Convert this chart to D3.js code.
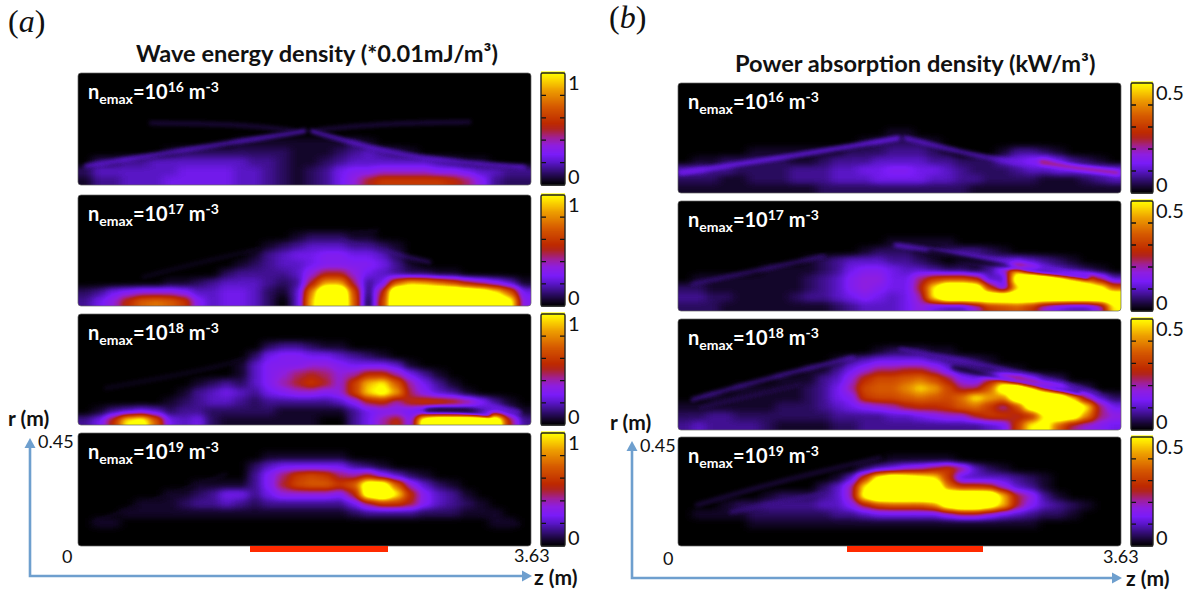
<!DOCTYPE html>
<html lang="en">
<head>
  <meta charset="UTF-8" />
  <title>Wave energy and power absorption density</title>
  <script src="https://cdn.jsdelivr.net/npm/d3@7"></script>
  <style>
    body { margin: 0; background: #fff; }
    svg { display: block; }
    text { font-family: Lato, "Open Sans", sans-serif; fill: #111; }
    .cond { font-weight: 700; fill: #fff; font-size: 20px; }
    .title { font-weight: 700; font-size: 23.6px; }
    .axis-name { font-weight: 700; font-size: 21px; }
    .num { font-size: 18px; }
    .bar-num { font-size: 20px; }
    .letter { font-family: "Liberation Serif", serif; font-size: 32px; }
  </style>
</head>
<body>
  <div id="chart"></div>

  <script>
    // Levels: level 20 is the top of the colorbar, anything above it is saturated yellow.
    // Rows run from r = 0.45 down to r = 0, columns from z = 0 to z = 3.63, trailing zeros left out.
    const waveN16 = [
      [], [], [], [], [], [], [],
      [0,0,0,0,0,0,0,0,0,0,0,1,1,1,1,1,1,1,1,2,1],
      [0,0,0,0,0,0,1,2,2,2,2,2,2,2,2,1,1,1,2,3,4,3,2,1],
      [0,2,2,3,3,4,4,4,4,4,4,4,3,3,2,1,1,2,3,4,4,4,4,4,4,3,2,1,1],
      [2,4,4,4,4,4,4,5,5,5,5,4,4,3,2,1,2,3,5,6,6,7,7,7,7,6,6,5,4,4,3,3],
      [1,3,3,4,4,4,5,5,5,5,5,4,4,3,2,1,2,3,5,7,10,12,12,12,12,12,11,9,6,3,2,2]
    ];
    const waveN17 = [
      [], [], [], [],
      [0,0,0,0,0,0,0,0,0,0,0,0,0,0,0,1,2,2,2,1,1],
      [0,0,0,0,0,0,0,0,0,0,0,0,0,1,2,3,4,4,4,3,3,2,1],
      [0,0,0,0,0,0,0,0,0,0,0,0,1,3,4,5,5,6,6,5,5,4,2],
      [0,0,0,0,0,0,0,0,0,0,0,1,2,3,4,4,5,6,6,6,6,5,3,1],
      [0,0,0,0,0,0,0,0,0,0,2,3,3,3,3,4,7,10,10,7,5,4,3,2,2,1,1],
      [0,0,0,0,0,0,1,1,2,3,4,4,4,3,2,3,10,17,17,9,3,5,14,18,17,15,13,10,8,6,4,1],
      [2,3,5,6,7,7,7,6,4,4,5,5,4,2,1,4,16,28,28,13,2,10,28,28,28,28,28,26,24,20,14,5],
      [3,5,7,11,14,15,14,12,6,4,5,5,4,2,0,4,18,28,28,14,1,12,28,28,28,28,28,28,28,28,22,6]
    ];
    const waveN18 = [
      [], [], [],
      [0,0,0,0,0,0,0,0,0,0,0,0,0,2,3,3,2,1,1],
      [0,0,0,0,0,0,0,0,0,0,0,0,2,5,6,6,5,5,4,3,2,1],
      [0,0,0,0,0,0,0,0,0,0,0,1,4,6,6,6,7,7,6,5,5,5,4,1],
      [0,0,0,0,0,0,0,0,0,0,0,1,4,6,7,9,10,9,7,8,11,11,8,5,3,1],
      [0,0,0,0,0,0,0,0,1,2,3,2,4,6,8,10,12,10,7,12,18,20,14,8,5,3,1],
      [0,0,0,0,0,0,0,1,3,4,5,4,3,5,6,7,7,6,7,12,19,22,17,9,6,4,3,1],
      [0,0,0,0,0,0,1,2,3,4,4,3,2,3,3,3,3,3,4,6,10,11,8,11,12,12,11,9,6,3,1],
      [0,1,3,4,5,4,2,3,3,2,2,2,2,2,1,1,1,1,1,3,5,6,6,5,3,1,1,1,3,5,3,1],
      [3,5,11,20,22,14,5,4,5,2,1,1,1,1,1,1,1,0,0,3,5,8,11,6,24,28,28,28,28,26,10,3]
    ];
    const waveN19 = [
      [], [],
      [0,0,0,0,0,0,0,0,0,0,0,0,0,1,1,1,1,1,1],
      [0,0,0,0,0,0,0,0,0,0,0,0,2,4,5,5,5,5,5,3,2,1],
      [0,0,0,0,0,0,0,0,0,0,0,0,3,6,9,12,13,12,9,8,10,6,4,2,1],
      [0,0,0,0,0,0,0,0,1,1,1,1,3,6,10,13,14,14,12,14,24,24,14,7,4,2,1],
      [0,0,0,0,0,0,1,1,2,3,5,5,3,5,7,7,7,7,6,10,24,28,20,11,6,4,3,1],
      [0,0,0,0,1,1,1,2,3,3,4,3,2,3,3,3,3,3,3,5,9,12,12,10,6,4,3,2,1],
      [0,0,0,1,1,1,1,1,1,1,1,1,1,1,1,1,1,1,1,2,3,3,3,3,2,2,2,1,1,1],
      [0,1,1,0,0,0,0,0,0,0,0,0,0,0,0,0,0,0,0,0,0,0,0,0,0,0,0,0,0,1,1],
      [], []
    ];
    const powerN16 = [
      [], [], [], [], [],
      [0,0,0,0,0,0,0,0,0,0,0,0,0,0,0,1,1],
      [0,0,0,0,0,0,0,0,0,0,0,0,0,1,2,2,2,2,1],
      [0,0,0,0,0,1,1,1,1,1,1,1,2,2,2,3,3,3,2,1,0,0,0,1,3,3,2,1],
      [0,1,1,2,2,2,2,2,1,1,2,3,3,3,4,4,4,4,3,3,2,2,2,4,5,6,7,5,3,2,1],
      [4,4,3,3,2,2,2,2,3,3,3,4,4,5,5,6,6,5,5,4,3,2,2,2,3,4,4,5,5,5,5,5],
      [2,2,2,1,1,2,2,2,3,3,3,4,4,4,5,5,5,5,4,4,3,3,2,2,2,2,1,1,1,2,3,4],
      [1,1,1,1,1,1,1,1,1,1,2,2,2,2,2,2,2,2,2,2,2,1,1,1,1,1,1,1,1,1,1,1]
    ];
    const powerN17 = [
      [], [], [], [],
      [0,0,0,0,0,0,0,0,0,0,0,0,0,0,0,1,1,1,1,1],
      [0,0,0,0,0,0,0,0,0,0,0,0,0,1,2,2,2,1,1,2,3,3,2,1],
      [0,0,0,0,0,0,0,0,0,1,2,3,4,4,4,3,3,2,1,0,1,2,3,4,5,4,3,2,1],
      [0,0,0,0,0,0,1,1,1,1,2,3,5,6,6,5,4,4,3,2,2,1,3,7,17,10,5,4,3,2,1],
      [0,1,1,1,1,1,1,1,1,2,3,4,6,7,7,5,5,9,12,13,13,11,4,4,24,28,27,23,18,14,9,4],
      [2,2,1,1,1,1,1,1,1,2,3,4,6,7,6,5,5,10,20,28,28,26,12,5,18,28,28,28,28,26,22,14],
      [3,3,2,2,1,1,1,1,2,3,3,4,5,6,5,4,5,8,20,28,28,28,28,28,28,28,28,28,28,28,28,28],
      [2,2,2,1,1,1,1,1,1,1,1,2,3,4,4,4,5,7,5,4,4,7,12,13,14,12,7,5,4,4,7,20]
    ];
    const powerN18 = [
      [], [], [],
      [0,0,0,0,0,0,0,0,0,0,0,0,0,0,1,2,2,2,1,1],
      [0,0,0,0,0,0,0,0,0,0,0,1,3,4,5,5,5,5,4,3,3,2,1],
      [0,0,0,0,0,0,0,0,0,1,1,3,5,7,9,9,10,10,8,5,3,3,2,2,1],
      [0,0,0,0,0,0,0,1,1,1,3,4,7,11,13,13,14,15,13,10,6,5,9,13,11,7,3,2],
      [0,0,0,0,1,1,1,1,1,2,3,5,8,13,14,14,16,19,17,13,9,9,14,24,28,22,14,9,4,2],
      [0,0,1,1,1,1,1,1,1,2,3,5,6,12,13,13,14,15,14,13,15,20,17,16,26,28,28,26,18,8,4,2],
      [1,1,1,1,1,1,1,2,2,2,3,4,5,6,7,8,10,11,11,12,14,15,12,8,13,24,28,28,28,20,9,5],
      [2,2,3,3,2,2,2,2,2,2,2,3,3,3,3,4,4,5,6,7,7,10,12,12,10,11,20,26,24,16,9,7],
      [3,4,3,3,3,3,2,1,1,1,1,2,2,3,3,3,3,3,3,3,3,3,4,5,12,20,22,14,9,7,6,5]
    ];
    const powerN19 = [
      [], [],
      [0,0,0,0,0,0,0,0,0,0,0,0,0,0,0,1,1,1,1,1],
      [0,0,0,0,0,0,0,0,0,0,0,0,0,2,4,5,7,8,10,12,9,4,2,1],
      [0,0,0,0,0,0,0,0,0,0,0,1,4,12,22,26,24,22,20,12,4,4,4,4,3,2,1],
      [0,0,0,0,0,0,0,0,0,0,2,4,8,20,28,28,28,28,28,15,12,12,11,7,4,3,1],
      [0,0,0,0,0,0,1,2,2,2,3,4,8,22,28,28,28,28,28,28,28,28,28,18,10,7,3,1],
      [0,0,0,1,2,2,3,3,3,3,4,4,6,10,13,14,14,14,16,24,28,28,24,18,10,6,4,3,2,1],
      [0,1,1,1,1,2,2,2,2,2,2,3,3,4,5,5,5,5,5,7,9,9,7,5,4,3,2,2,1],
      [0,0,0,0,0,1,1,1,1,1,1,1,1,1,1,1,1,1,1,1,1,1,1,1,1,1],
      [], []
    ];

    // Thin rays too fine for the grid, as [z, r] points in metres. Level 0 is a dark ray.
    const waveN16Rays = [
      { level: 5, points: [[0.06,0.076],[0.74,0.132],[1.30,0.176],[1.82,0.217]] },
      { level: 2, points: [[0.58,0.249],[1.30,0.245],[1.74,0.217]] },
      { level: 5, points: [[1.87,0.217],[2.34,0.149],[2.82,0.10],[3.58,0.072]] },
      { level: 2, points: [[1.92,0.221],[2.34,0.245],[3.14,0.253]] }
    ];
    const waveN17Rays = [
      { level: 1, points: [[0.52,0.117],[1.43,0.237],[2.40,0.305]] },
      { level: 3, points: [[2.10,0.265],[2.82,0.177]] }
    ];
    const waveN18Rays = [
      { level: 0, points: [[2.79,0.06],[3.02,0.064],[3.30,0.04]] },
      { level: 5, points: [[3.06,0.10],[3.54,0.052]] },
      { level: 1, points: [[0.22,0.149],[1.12,0.233],[1.49,0.289]] }
    ];
    const waveN19Rays = [
      { level: 1, points: [[0.13,0.096],[1.19,0.285]] },
      { level: 1, points: [[2.93,0.165],[3.54,0.084]] }
    ];
    const powerN16Rays = [
      { level: 6, points: [[0.02,0.082],[0.885,0.147],[1.81,0.225]] },
      { level: 5, points: [[1.86,0.225],[2.58,0.135],[2.97,0.115]] },
      { level: 11, points: [[2.97,0.127],[3.21,0.106],[3.61,0.082]] }
    ];
    const powerN17Rays = [
      { level: 5, points: [[1.78,0.27],[2.56,0.217],[3.61,0.115]] },
      { level: 0, points: [[2.06,0.245],[2.72,0.176],[3.36,0.139]] },
      { level: 3, points: [[0.115,0.11],[0.67,0.168],[1.20,0.225]] }
    ];
    const powerN18Rays = [
      { level: 4, points: [[0.115,0.123],[0.754,0.213],[1.44,0.294]] },
      { level: 2, points: [[0.18,0.09],[1.0,0.184]] },
      { level: 4, points: [[1.82,0.327],[2.64,0.254],[3.45,0.147]] },
      { level: 0, points: [[2.25,0.254],[2.88,0.184],[3.29,0.151]] }
    ];
    const powerN19Rays = [
      { level: 2, points: [[0.15,0.168],[0.84,0.27],[1.66,0.364]] },
      { level: 3, points: [[0.43,0.139],[1.33,0.229]] }
    ];

    const densityExponents = [16, 17, 18, 19];
    const zTicks = [0.5, 1, 1.5, 2, 2.5, 3, 3.5];
    const rTicks = [0.05, 0.1];
    const colorStops = [0, 0.05, 0.1, 0.2, 0.27, 0.35, 0.42, 0.5, 0.55, 0.7, 0.85, 0.95, 1];
    const colorValues = ["#000000", "#14062a", "#2a0c60", "#5a16c8", "#7a1cf8", "#8e1ee0", "#a0209a",
      "#b02420", "#be2a00", "#d65a00", "#eea000", "#fde000", "#ffff00"];
    const zMax = 3.63, rMax = 0.45, levelTop = 20, levelMax = 28;

    const width = 1188, height = 590;
    const svg = d3.select("#chart").append("svg").attr("width", width).attr("height", height);
    const defs = svg.append("defs");

    const colorAt = d3.scaleLinear().domain(colorStops).range(colorValues).clamp(true);
    const grayAt = d3.scaleLinear().domain([0, levelMax]).range([0, 255]).clamp(true);

    // Cells are painted in gray, blurred, and the gray is then mapped through the colorbar
    const table = d3.range(0, 129).map(i => d3.rgb(colorAt((i / 128) * levelMax / levelTop)));
    const filterBox = s => s.attr("filterUnits", "userSpaceOnUse").attr("x", 0).attr("y", 0)
      .attr("width", width).attr("height", height).attr("color-interpolation-filters", "sRGB");

    const mapFilter = filterBox(defs.append("filter").attr("id", "colormap"));
    const transfer = mapFilter.append("feComponentTransfer");
    [["feFuncR", "r"], ["feFuncG", "g"], ["feFuncB", "b"]].forEach(([fn, ch]) => {
      transfer.append(fn).attr("type", "table").attr("tableValues", table.map(c => (c[ch] / 255).toFixed(3)).join(" "));
    });
    filterBox(defs.append("filter").attr("id", "blurCells")).append("feGaussianBlur").attr("stdDeviation", "5 3");
    filterBox(defs.append("filter").attr("id", "blurRay")).append("feGaussianBlur").attr("stdDeviation", "2.2");

    function drawPanel(cfg, i) {
      const z = d3.scaleLinear().domain([0, zMax]).range([cfg.left, cfg.right]);
      const r = d3.scaleLinear().domain([0, rMax]).range([cfg.bottom, cfg.top]);
      const col = d3.scaleBand().domain(d3.range(32)).range([cfg.left, cfg.right]);
      const row = d3.scaleBand().domain(d3.range(12)).range([cfg.top, cfg.bottom]);
      const clipId = `clip-${cfg.id}`;

      defs.append("clipPath").attr("id", clipId).append("rect")
        .attr("x", cfg.left).attr("y", cfg.top)
        .attr("width", cfg.right - cfg.left).attr("height", cfg.bottom - cfg.top).attr("rx", 3);

      const g = svg.append("g").attr("clip-path", `url(#${clipId})`);
      const mapped = g.append("g").attr("filter", "url(#colormap)");
      mapped.append("rect").attr("x", cfg.left - 30).attr("y", cfg.top - 30)
        .attr("width", cfg.right - cfg.left + 60).attr("height", cfg.bottom - cfg.top + 60).attr("fill", "#000");

      const cells = cfg.grid.flatMap((vals, k) => vals.map((v, c) => ({ k, c, v })));
      mapped.append("g").attr("filter", "url(#blurCells)")
        .selectAll("rect").data(cells).join("rect")
        // edge cells run past the panel so the blur does not fade at the border
        .attr("x", d => col(d.c) - (d.c === 0 ? 20 : 0))
        .attr("y", d => row(d.k))
        .attr("width", d => col.bandwidth() + (d.c === 0 || d.c === 31 ? 20 : 0) + 0.5)
        .attr("height", d => row.bandwidth() + (d.k === 11 ? 20 : 0) + 0.5)
        .attr("fill", d => { const g8 = grayAt(d.v); return d3.rgb(g8, g8, g8); });

      const rayLine = d3.line().x(d => z(d[0])).y(d => r(d[1])).curve(d3.curveBasis);
      mapped.selectAll("path.ray").data(cfg.rays).join("path")
        .attr("class", "ray")
        .attr("d", d => rayLine(d.points))
        .attr("fill", "none")
        .attr("stroke", d => { const g8 = grayAt(d.level); return d3.rgb(g8, g8, g8); })
        .attr("stroke-width", 3)
        .attr("stroke-linecap", "round")
        .attr("filter", "url(#blurRay)")
        .style("mix-blend-mode", d => d.level > 0 ? "lighten" : "normal");

      // black ticks inside the frame
      if (i < 3) {
        const zAxis = svg.append("g").attr("clip-path", `url(#${clipId})`)
          .attr("transform", `translate(0,${cfg.bottom})`)
          .call(d3.axisBottom(z).tickValues(zTicks).tickSizeInner(-4).tickSizeOuter(0).tickFormat(""));
        zAxis.select(".domain").remove();
        zAxis.selectAll("line").attr("stroke", "#000").attr("stroke-width", 1.2);
        if (cfg.side === "b") {
          const rAxis = svg.append("g").attr("clip-path", `url(#${clipId})`)
            .attr("transform", `translate(${cfg.right},0)`)
            .call(d3.axisRight(r).tickValues(rTicks).tickSizeInner(-3).tickSizeOuter(0).tickFormat(""));
          rAxis.select(".domain").remove();
          rAxis.selectAll("line").attr("stroke", "#000");
        }
      }

      svg.append("rect").attr("x", cfg.left).attr("y", cfg.top)
        .attr("width", cfg.right - cfg.left).attr("height", cfg.bottom - cfg.top).attr("rx", 3)
        .attr("fill", "none").attr("stroke", "#666").attr("stroke-width", 0.7);

      // density label with sub and superscripts
      const label = svg.append("text").attr("class", "cond").attr("x", cfg.left + 10).attr("y", cfg.top + 26);
      label.append("tspan").text("n");
      label.append("tspan").attr("dy", 5).attr("font-size", 14).text("emax");
      label.append("tspan").attr("dy", -5).text("=10");
      label.append("tspan").attr("dy", -7).attr("font-size", 14).text(densityExponents[i]);
      label.append("tspan").attr("dy", 7).text(" m");
      label.append("tspan").attr("dy", -7).attr("font-size", 14).text("-3");

      // colorbar
      const bar = d3.scaleLinear().domain([0, cfg.barMax]).range([cfg.bottom, cfg.top]);
      const barSteps = d3.range(0, 101);
      svg.append("g").selectAll("rect").data(barSteps).join("rect")
        .attr("x", cfg.barLeft).attr("width", cfg.barWidth)
        .attr("y", d => bar((d + 1) / 100 * cfg.barMax) - 0.5)
        .attr("height", d => bar(d / 100 * cfg.barMax) - bar((d + 1) / 100 * cfg.barMax) + 1)
        .attr("fill", d => colorAt(d / 100));
      const barTicks = [0.2, 0.4, 0.6, 0.8].map(t => t * cfg.barMax);
      svg.append("g").selectAll("path").data(barTicks).join("path")
        .attr("d", d => `M${cfg.barLeft},${bar(d)}h5M${cfg.barLeft + cfg.barWidth},${bar(d)}h-5`)
        .attr("stroke", "#111").attr("stroke-width", 1.3);
      svg.append("rect").attr("x", cfg.barLeft).attr("y", cfg.top)
        .attr("width", cfg.barWidth).attr("height", cfg.bottom - cfg.top).attr("rx", 1.5)
        .attr("fill", "none").attr("stroke", "#222").attr("stroke-width", 1.4);
      svg.append("text").attr("class", "bar-num").attr("x", cfg.barLeft + cfg.barWidth + 3).attr("y", cfg.top + 17).text(cfg.barMax);
      svg.append("text").attr("class", "bar-num").attr("x", cfg.barLeft + cfg.barWidth + 3).attr("y", cfg.bottom - 1).text(0);
    }

    const sides = [
      { side: "a", left: 78, right: 531, barLeft: 541, barWidth: 24, barMax: 1,
        tops: [73, 195, 314, 433], bottoms: [185, 306, 425, 546],
        grids: [waveN16, waveN17, waveN18, waveN19],
        rays: [waveN16Rays, waveN17Rays, waveN18Rays, waveN19Rays] },
      { side: "b", left: 678, right: 1121, barLeft: 1131, barWidth: 22, barMax: 0.5,
        tops: [83, 201, 319, 437], bottoms: [193, 311, 430, 546],
        grids: [powerN16, powerN17, powerN18, powerN19],
        rays: [powerN16Rays, powerN17Rays, powerN18Rays, powerN19Rays] }
    ];
    sides.forEach(s => s.grids.forEach((grid, i) => {
      drawPanel({ ...s, id: s.side + i, top: s.tops[i], bottom: s.bottoms[i], grid, rays: s.rays[i] }, i);
    }));

    // Source bar under the last panels
    const redBars = [[250, 388], [847, 983]];
    svg.append("g").selectAll("rect").data(redBars).join("rect")
      .attr("x", d => d[0]).attr("y", 546).attr("width", d => d[1] - d[0]).attr("height", 6).attr("fill", "#ff2a00");

    // Blue r and z arrows
    const arrows = [
      { x0: 30, y0: 576, top: 438, end: 532 },
      { x0: 632, y0: 578, top: 441, end: 1122 }
    ];
    arrows.forEach(a => {
      svg.append("path").attr("d", `M${a.x0},${a.top + 8}V${a.y0}H${a.end - 8}`)
        .attr("fill", "none").attr("stroke", "#6e9fce").attr("stroke-width", 2.6);
      svg.append("path").attr("d", `M${a.x0},${a.top}l-5.5,10h11z`).attr("fill", "#6e9fce");
      svg.append("path").attr("d", `M${a.end},${a.y0}l-10,-5.5v11z`).attr("fill", "#6e9fce");
    });

    const texts = [
      ["title", 136, 62, "Wave energy density (*0.01mJ/m³)"],
      ["title", 735, 72, "Power absorption density (kW/m³)"],
      ["axis-name", 8, 426, "r (m)"],
      ["axis-name", 610, 430, "r (m)"],
      ["axis-name", 534, 585, "z (m)"],
      ["axis-name", 1126, 586, "z (m)"],
      ["num", 38, 448, "0.45"],
      ["num", 640, 452, "0.45"],
      ["num", 62, 563, "0"],
      ["num", 663, 565, "0"],
      ["num", 514, 562, "3.63"],
      ["num", 1103, 563, "3.63"]
    ];
    texts.forEach(([cls, x, y, s]) => {
      svg.append("text").attr("class", cls).attr("x", x).attr("y", y).text(s);
    });

    [[8, 32, "a"], [609, 28, "b"]].forEach(([x, y, s]) => {
      const t = svg.append("text").attr("class", "letter").attr("x", x).attr("y", y);
      t.append("tspan").text("(");
      t.append("tspan").attr("font-style", "italic").text(s);
      t.append("tspan").text(")");
    });
  </script>
</body>
</html>
